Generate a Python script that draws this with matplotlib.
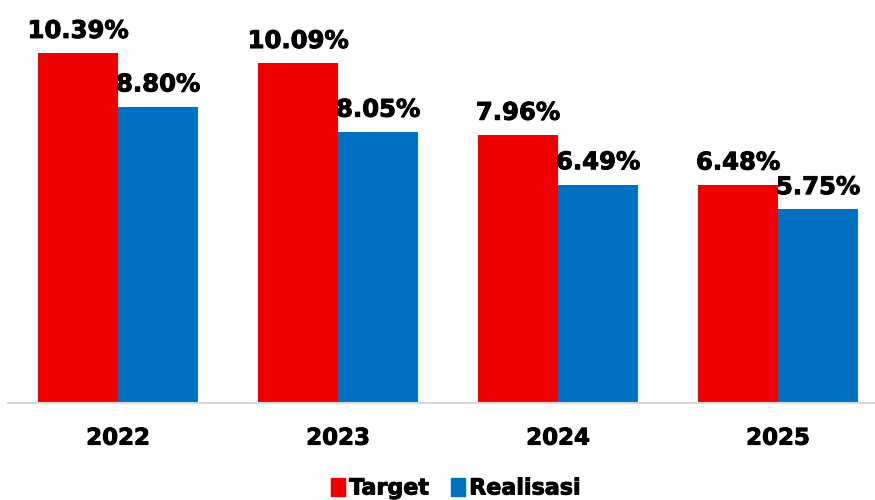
import numpy as np
import matplotlib
matplotlib.use('Agg')
import matplotlib.pyplot as plt
import matplotlib.patheffects as pe
from matplotlib.patches import Patch

# target vs realisasi per year (percent)
years = ['2022', '2023', '2024', '2025']
target = [10.39, 10.09, 7.96, 6.48]
realisasi = [8.80, 8.05, 6.49, 5.75]

red = '#EE0000'
blue = '#0070C0'

plt.rcParams['font.family'] = 'DejaVu Sans'
plt.rcParams['font.weight'] = 'bold'

# thicken the bold glyphs a touch
heavy = [pe.withStroke(linewidth=0.7, foreground='black')]

fig = plt.figure(figsize=(8.75, 5), dpi=100)
# axes spans category centres +/- 0.5, running a little past the right edge
ax = fig.add_axes([8 / 875, 97 / 500, 880 / 875, 404 / 500])

x = np.arange(len(years))
w = 0.364
b1 = ax.bar(x - w / 2, target, w, color=red, label='Target')
b2 = ax.bar(x + w / 2, realisasi, w, color=blue, label='Realisasi')

for bars, vals in ((b1, target), (b2, realisasi)):
    for bar, v in zip(bars, vals):
        ax.annotate('{:.2f}%'.format(v),
                    (bar.get_x() + bar.get_width() / 2, v),
                    xytext=(0, 11), textcoords='offset points',
                    ha='center', va='baseline', fontsize=17.5,
                    fontweight='bold', color='black', path_effects=heavy)

ax.set_xlim(-0.5, 3.5)
ax.set_ylim(0, 12)
ax.set_xticks(x)
ax.set_xticklabels(years, fontsize=16.5, fontweight='bold', path_effects=heavy)
ax.tick_params(axis='x', length=0, pad=17)
ax.set_yticks([])
for s in ('top', 'right', 'left'):
    ax.spines[s].set_visible(False)
ax.spines['bottom'].set_color('#D9D9D9')
ax.spines['bottom'].set_linewidth(1.5)

handles = [Patch(color=red), Patch(color=blue)]
leg = fig.legend(handles, ['Target', 'Realisasi'], loc='center',
                 bbox_to_anchor=(456 / 875, 1 - 488 / 500), ncol=2, frameon=False,
                 prop={'size': 16, 'weight': 'bold'}, handlelength=0.6,
                 handleheight=0.9, handletextpad=0.2, columnspacing=1.0,
                 borderpad=0)
for t in leg.get_texts():
    t.set_path_effects(heavy)

fig.savefig('out.png', dpi=100)
